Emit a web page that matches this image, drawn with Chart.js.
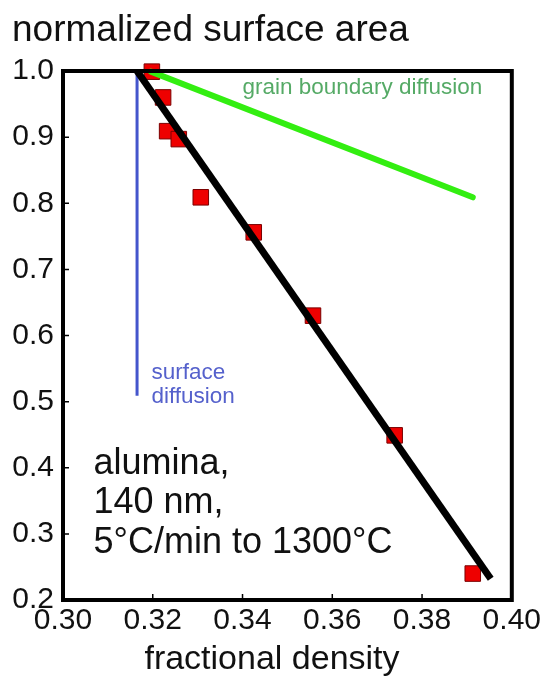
<!DOCTYPE html>
<html>
<head>
<meta charset="utf-8">
<script src="https://cdn.jsdelivr.net/npm/chart.js@4/dist/chart.umd.min.js"></script>
<style>
  html, body { margin: 0; padding: 0; background: #fff; }
  #wrap { width: 544px; height: 682px; position: relative; }
</style>
</head>
<body>
<div id="wrap"><canvas id="chart"></canvas></div>
<script>
/* data */
const densityPts = [0.3198, 0.3223, 0.3232, 0.3258, 0.3307, 0.3425, 0.3557, 0.3739, 0.3913];
const areaPts    = [0.999, 0.960, 0.909, 0.897, 0.809, 0.756, 0.630, 0.449, 0.240];

const fitX  = [0.3165, 0.3953];
const fitY  = [1.000, 0.232];
const gbX   = [0.3196, 0.3913];
const gbY   = [0.999, 0.809];
const sdX   = [0.3165, 0.3165];
const sdY   = [1.000, 0.509];

const xTicks = [0.30, 0.32, 0.34, 0.36, 0.38, 0.40];
const yTicks = [0.2, 0.3, 0.4, 0.5, 0.6, 0.7, 0.8, 0.9, 1.0];

const pairs = (xs, ys) => xs.map((x, i) => ({ x, y: ys[i] }));
const FONT = '"Liberation Sans", Arial, sans-serif';

/* ── frame, inward ticks and labels ── */
const decor = {
  id: 'decor',
  afterDatasetsDraw(chart) {
    const { ctx, chartArea: a, scales: { x, y } } = chart;
    ctx.save();
    ctx.strokeStyle = '#000';
    ctx.lineWidth = 1.5;
    ctx.beginPath();
    xTicks.slice(1, -1).forEach(v => {
      const px = x.getPixelForValue(v);
      ctx.moveTo(px, a.bottom); ctx.lineTo(px, a.bottom - 6);
    });
    yTicks.slice(1, -1).forEach(v => {
      const py = y.getPixelForValue(v);
      ctx.moveTo(a.left, py); ctx.lineTo(a.left + 6, py);
    });
    ctx.stroke();

    ctx.lineWidth = 4;
    ctx.strokeRect(a.left, a.top, a.right - a.left, a.bottom - a.top);

    // annotations
    ctx.textBaseline = 'middle';
    ctx.textAlign = 'left';
    ctx.fillStyle = '#55aa66';
    ctx.font = `22.5px ${FONT}`;
    ctx.fillText('grain boundary diffusion', x.getPixelForValue(0.3400), y.getPixelForValue(0.974));

    ctx.fillStyle = '#5561cc';
    ctx.fillText('surface', x.getPixelForValue(0.3197), y.getPixelForValue(0.544));
    ctx.fillText('diffusion', x.getPixelForValue(0.3197), y.getPixelForValue(0.508));

    ctx.fillStyle = '#111';
    ctx.font = `36px ${FONT}`;
    ctx.fillText('alumina,', x.getPixelForValue(0.3068), y.getPixelForValue(0.405));
    ctx.fillText('140 nm,', x.getPixelForValue(0.3068), y.getPixelForValue(0.346));
    ctx.fillText('5°C/min to 1300°C', x.getPixelForValue(0.3068), y.getPixelForValue(0.286));

    ctx.font = `37px ${FONT}`;
    ctx.fillText('normalized surface area', 12, 31);

    ctx.textAlign = 'center';
    ctx.font = `34px ${FONT}`;
    ctx.fillText('fractional density', 272, 660);
    ctx.restore();
  }
};

new Chart(document.getElementById('chart'), {
  type: 'scatter',
  data: {
    datasets: [
      { data: pairs(sdX, sdY), showLine: true, borderColor: '#4455cc', borderWidth: 3,
        pointRadius: 0, order: 3, clip: false },
      { data: pairs(densityPts, areaPts), pointStyle: 'rect', pointRadius: 11,
        backgroundColor: '#ee0000', borderColor: '#7a0000', borderWidth: 1, order: 2, clip: false },
      { data: pairs(fitX, fitY), showLine: true, borderColor: '#000', borderWidth: 7,
        pointRadius: 0, order: 1, clip: false },
      { data: pairs(gbX, gbY), showLine: true, borderColor: '#33ee11', borderWidth: 6,
        pointRadius: 0, order: 1, clip: false, borderCapStyle: 'round' }
    ]
  },
  options: {
    responsive: true,
    maintainAspectRatio: false,
    animation: false,
    events: [],
    layout: { padding: { top: 71, right: 32, left: 0, bottom: 0 } },
    plugins: { legend: { display: false }, tooltip: { enabled: false } },
    scales: {
      x: {
        type: 'linear', min: 0.30, max: 0.40,
        afterBuildTicks: s => { s.ticks = xTicks.map(v => ({ value: v })); },
        afterFit: s => { s.height = 82; },
        grid: { display: false, drawTicks: false },
        border: { display: false },
        ticks: { color: '#111', padding: 3, maxRotation: 0, autoSkip: false,
                 font: { family: FONT, size: 30 }, callback: v => v.toFixed(2) }
      },
      y: {
        type: 'linear', min: 0.2, max: 1.0,
        afterBuildTicks: s => { s.ticks = yTicks.map(v => ({ value: v })); },
        afterFit: s => { s.width = 63; },
        grid: { display: false, drawTicks: false },
        border: { display: false },
        ticks: { color: '#111', padding: 9, autoSkip: false,
                 font: { family: FONT, size: 30 }, callback: v => v.toFixed(1) }
      }
    }
  },
  plugins: [decor]
});
</script>
</body>
</html>
